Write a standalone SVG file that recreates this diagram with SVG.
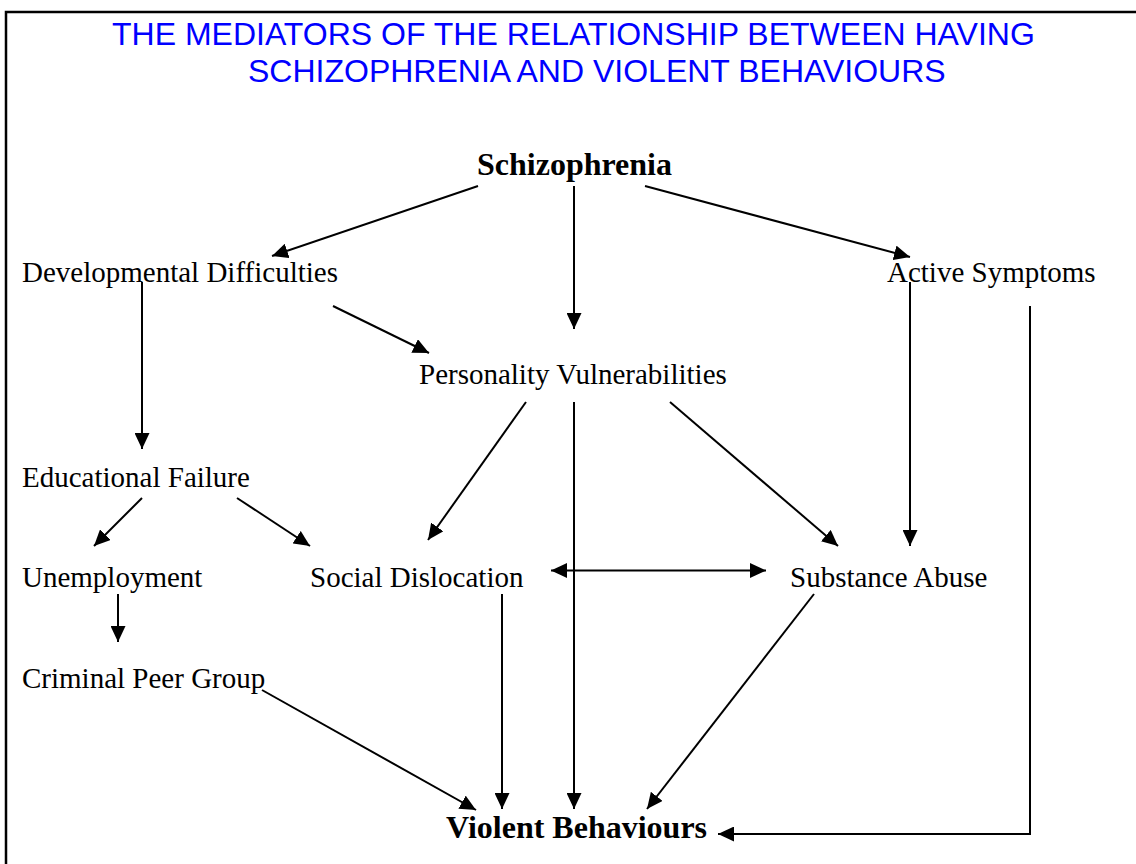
<svg xmlns="http://www.w3.org/2000/svg" width="1136" height="864" viewBox="0 0 1136 864">
<style>
.title{font-family:"Liberation Sans",Arial,sans-serif;font-size:32px;fill:#0000FF}
.node{font-family:"Liberation Serif","Times New Roman",serif;font-size:29px;fill:#000}
.bold{font-family:"Liberation Serif","Times New Roman",serif;font-size:32px;font-weight:bold;fill:#000}
.edge{stroke:#000;stroke-width:2;fill:none;marker-end:url(#ah)}
.frame{stroke:#000;stroke-width:2.5;fill:none}
</style>
<defs>
<marker id="ah" markerUnits="userSpaceOnUse" markerWidth="16" markerHeight="15" refX="16" refY="7.5" orient="auto">
<path d="M0,0 L16,7.5 L0,15 z" fill="#000"/>
</marker>
<marker id="ahs" markerUnits="userSpaceOnUse" markerWidth="16" markerHeight="15" refX="16" refY="7.5" orient="auto-start-reverse">
<path d="M0,0 L16,7.5 L0,15 z" fill="#000"/>
</marker>
</defs>
<rect width="1136" height="864" fill="#fff"/>
<path class="frame" d="M6,864 L6,12 L1136,12"/>
<g id="title">
<text class="title" x="112" y="45">THE MEDIATORS OF THE RELATIONSHIP BETWEEN HAVING</text>
<text class="title" x="248" y="82">SCHIZOPHRENIA AND VIOLENT BEHAVIOURS</text>
</g>
<g id="n-schizophrenia"><text class="bold" x="477" y="175">Schizophrenia</text></g>
<g id="n-developmental"><text class="node" x="22" y="282">Developmental Difficulties</text></g>
<g id="n-active"><text class="node" x="887" y="282">Active Symptoms</text></g>
<g id="n-personality"><text class="node" x="419" y="384">Personality Vulnerabilities</text></g>
<g id="n-educational"><text class="node" x="22" y="487">Educational Failure</text></g>
<g id="n-unemployment"><text class="node" x="22" y="587">Unemployment</text></g>
<g id="n-social"><text class="node" x="310" y="587">Social Dislocation</text></g>
<g id="n-substance"><text class="node" x="790" y="587">Substance Abuse</text></g>
<g id="n-criminal"><text class="node" x="22" y="688">Criminal Peer Group</text></g>
<g id="n-violent"><text class="bold" x="446" y="838">Violent Behaviours</text></g>
<g id="connectors">
<line class="edge" x1="478" y1="186" x2="272" y2="256"/>
<line class="edge" x1="574" y1="186" x2="574" y2="329"/>
<line class="edge" x1="645" y1="186" x2="910" y2="257"/>
<line class="edge" x1="142" y1="282" x2="142" y2="449"/>
<line class="edge" x1="333" y1="306" x2="429" y2="353"/>
<line class="edge" x1="910" y1="282" x2="910" y2="546"/>
<polyline class="edge" points="1030,306 1030,834 718,834"/>
<line class="edge" x1="526" y1="402" x2="428" y2="540"/>
<line class="edge" x1="574" y1="402" x2="574" y2="809"/>
<line class="edge" x1="670" y1="402" x2="838" y2="546"/>
<line class="edge" x1="142" y1="498" x2="94" y2="546"/>
<line class="edge" x1="237" y1="498" x2="310" y2="546"/>
<line class="edge" x1="551" y1="570.5" x2="766" y2="570.5" style="marker-start:url(#ahs)" marker-start="url(#ahs)"/>
<line class="edge" x1="118" y1="594" x2="118" y2="642"/>
<line class="edge" x1="502" y1="594" x2="502" y2="809"/>
<line class="edge" x1="262" y1="690" x2="476" y2="810"/>
<line class="edge" x1="814" y1="594" x2="647" y2="809"/>
</g>
</svg>
